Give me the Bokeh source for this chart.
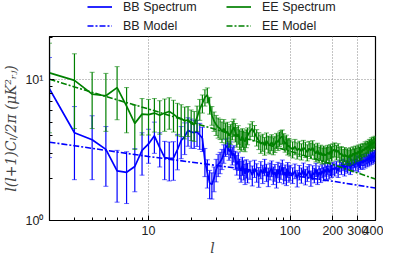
from bokeh.plotting import figure
from bokeh.layouts import column
from bokeh.models import ColumnDataSource, FixedTicker, Legend, LegendItem, Range1d
from bokeh.embed import file_html
from bokeh.resources import INLINE

# multipole grid (integer l, coarser at high l)
ell = list(range(2, 51)) + list(range(52, 101, 2)) + list(range(104, 201, 4)) + list(range(206, 399, 6))

# BB spectrum
bb_vals = ([8.6, 4.2, 3.75, 3.2, 2.25, 2.2, 2.42, 3.15, 3.5, 4.0, 3.3, 2.8, 2.76, 2.78, 3.19,
            3.7, 3.94, 4.37, 4.26, 4.2, 4.26, 4.05, 3.84, 2.65, 2.2, 1.85, 1.8, 2.0, 2.3]
           + [2.5, 2.6, 2.75, 3.0, 3.3, 3.4, 3.1, 3.2, 2.9, 3.0, 2.7, 2.5, 2.65, 2.35, 2.25,
              2.45, 2.3, 2.15, 2.35, 2.2]
           + [2.3, 2.1, 2.35, 2.2, 2.05, 2.3, 2.15, 2.4, 2.2, 2.05, 2.25, 2.35, 2.1, 2.2, 2.0,
              2.3, 2.15, 2.25, 2.4, 2.1, 2.2, 2.05, 2.3, 2.15, 2.2]
           + [2.1, 2.25, 2.0, 2.2, 2.1, 2.3, 2.05, 2.15, 2.25, 2.0, 2.2, 2.1, 2.3, 2.05, 2.2,
              2.1, 2.25, 2.15, 2.3, 2.2, 2.35, 2.2, 2.3, 2.25, 2.35]
           + [2.3, 2.4, 2.25, 2.45, 2.35, 2.5, 2.3, 2.45, 2.4, 2.55, 2.35, 2.5, 2.45, 2.6, 2.5,
              2.65, 2.45, 2.6, 2.55, 2.7, 2.55, 2.7, 2.6, 2.75, 2.65, 2.8, 2.7, 2.85, 2.75, 2.9,
              2.8, 2.85, 2.9])
bb_errs = ([5.8, 2.25, 1.8, 1.45, 0.9, 0.88, 0.82, 1.05, 0.95, 1.0, 0.9, 0.85, 0.85, 0.85, 0.9,
            0.95, 1.0, 1.0, 1.0, 0.95, 0.9, 0.85, 0.75, 0.6, 0.5, 0.42, 0.38, 0.4, 0.42]
           + [0.45, 0.45, 0.45, 0.45, 0.45, 0.45, 0.42, 0.42, 0.42, 0.4, 0.4, 0.4, 0.38, 0.38, 0.38,
              0.36, 0.36, 0.35, 0.35, 0.35]
           + [0.34, 0.34, 0.33, 0.33, 0.33, 0.32, 0.32, 0.32, 0.31, 0.31, 0.31, 0.3, 0.3, 0.3, 0.3,
              0.29, 0.29, 0.29, 0.29, 0.28, 0.28, 0.28, 0.28, 0.28, 0.27]
           + [0.27, 0.27, 0.27, 0.26, 0.26, 0.26, 0.26, 0.26, 0.25, 0.25, 0.25, 0.25, 0.25, 0.25, 0.24,
              0.24, 0.24, 0.24, 0.24, 0.24, 0.24, 0.23, 0.23, 0.23, 0.23]
           + [0.23, 0.23, 0.23, 0.23, 0.23, 0.23, 0.23, 0.23, 0.23, 0.23, 0.23, 0.23, 0.23, 0.23, 0.23,
              0.24, 0.24, 0.24, 0.24, 0.24, 0.24, 0.24, 0.24, 0.24, 0.24, 0.25, 0.25, 0.25, 0.25, 0.25,
              0.25, 0.25, 0.25])

# EE spectrum
ee_vals = ([11.2, 9.9, 7.9, 7.7, 8.8, 6.5, 4.9, 5.7, 5.65, 5.8, 5.6, 5.8, 5.95, 5.7, 5.4,
            5.3, 5.1, 5.2, 4.9, 4.8, 5.4, 6.2, 6.8, 7.5, 7.8, 6.6, 5.6, 5.1, 4.8]
           + [4.6, 4.5, 4.3, 4.5, 4.2, 4.3, 4.0, 4.15, 4.4, 4.6, 4.25, 3.95, 4.1, 3.8, 3.7,
              3.9, 3.75, 3.65, 3.85, 4.0]
           + [4.3, 4.5, 4.2, 3.9, 3.7, 3.5, 3.6, 3.4, 3.7, 3.5, 3.45, 3.6, 3.4, 3.5, 3.7,
              3.6, 3.8, 3.9, 3.95, 3.7, 3.5, 3.6, 3.35, 3.4, 3.3]
           + [3.2, 3.35, 3.15, 3.25, 3.1, 3.3, 3.2, 3.05, 3.25, 3.15, 3.3, 3.1, 3.0, 3.15, 2.95,
              3.05, 2.9, 3.0, 2.9, 2.95, 3.05, 2.95, 3.1, 3.0, 3.15]
           + [3.2, 3.05, 3.15, 2.95, 3.0, 2.85, 2.95, 2.85, 2.9, 2.8, 2.95, 2.85, 3.0, 2.9, 3.05,
              2.95, 3.1, 3.0, 3.15, 3.05, 3.2, 3.15, 3.3, 3.2, 3.35, 3.3, 3.45, 3.4, 3.55, 3.45,
              3.6, 3.55, 3.65])
ee_errs = ([7.0, 5.4, 3.4, 3.4, 3.6, 2.3, 1.7, 1.65, 1.6, 1.55, 1.5, 1.5, 1.5, 1.45, 1.4,
            1.35, 1.3, 1.25, 1.2, 1.15, 1.1, 1.05, 1.0, 1.0, 0.95, 0.9, 0.85, 0.8, 0.78]
           + [0.75, 0.74, 0.72, 0.71, 0.7, 0.69, 0.68, 0.67, 0.66, 0.65, 0.64, 0.63, 0.62, 0.61, 0.6,
              0.59, 0.58, 0.57, 0.56, 0.55]
           + [0.55, 0.54, 0.53, 0.52, 0.51, 0.5, 0.5, 0.49, 0.49, 0.48, 0.48, 0.47, 0.47, 0.46, 0.46,
              0.46, 0.45, 0.45, 0.45, 0.44, 0.44, 0.44, 0.43, 0.43, 0.43]
           + [0.42, 0.42, 0.42, 0.41, 0.41, 0.41, 0.4, 0.4, 0.4, 0.4, 0.39, 0.39, 0.39, 0.39, 0.38,
              0.38, 0.38, 0.38, 0.37, 0.37, 0.37, 0.37, 0.36, 0.36, 0.36]
           + [0.36, 0.36, 0.36, 0.35, 0.35, 0.35, 0.35, 0.35, 0.34, 0.34, 0.34, 0.34, 0.34, 0.34, 0.33,
              0.33, 0.33, 0.33, 0.33, 0.33, 0.33, 0.32, 0.32, 0.32, 0.32, 0.32, 0.32, 0.32, 0.32, 0.32,
              0.32, 0.32, 0.32])

# models
model_ell = [2, 3, 5, 10, 20, 50, 100, 200, 400]
bb_model = [3.6, 3.4, 3.15, 2.85, 2.6, 2.3, 2.1, 1.9, 1.7]
ee_model = [10.1, 8.9, 7.6, 6.2, 5.0, 3.8, 3.1, 2.5, 1.97]

x_major = [10, 100, 200, 300, 400]
x_minor = [2, 3, 4, 5, 6, 7, 8, 9, 20, 30, 40, 50, 60, 70, 80, 90]
y_major = [1, 10]
y_minor = [2, 3, 4, 5, 6, 7, 8, 9, 20]
y_labels = {1: "10⁰", 10: "10¹"}

BLUE = "#0000ff"
GREEN = "#008000"
DASH = "6 2 2 2"

p = figure(width=383, height=223, x_axis_type="log", y_axis_type="log",
           x_range=Range1d(2, 400), y_range=Range1d(1, 20.3),
           output_backend="svg", toolbar_location=None, title=None,
           min_border_left=47, min_border_right=8, min_border_top=1, min_border_bottom=34)
p.background_fill_color = "white"
p.border_fill_color = "white"
p.outline_line_color = "black"
p.outline_line_width = 1.2


def style_axis(ax, ticks, minor, overrides):
    ax.ticker = FixedTicker(ticks=ticks, minor_ticks=minor)
    ax.major_tick_in = 5
    ax.major_tick_out = 0
    ax.minor_tick_in = 3
    ax.minor_tick_out = 0
    ax.axis_line_color = "black"
    ax.major_tick_line_color = "black"
    ax.minor_tick_line_color = "black"
    ax.major_label_overrides = overrides
    ax.major_label_text_font = "Liberation Sans"
    ax.major_label_text_font_size = "12.5px"
    ax.major_label_text_color = "#222222"


xa = p.xaxis[0]
ya = p.yaxis[0]
style_axis(xa, x_major, x_minor, {v: str(v) for v in x_major})
style_axis(ya, y_major, y_minor, y_labels)
xa.major_label_standoff = 5
ya.major_label_standoff = 6
xa.axis_label = "l"
xa.axis_label_text_font = "DejaVu Serif"
xa.axis_label_text_font_style = "italic"
xa.axis_label_text_font_size = "14px"
xa.axis_label_standoff = 2
ya.axis_label = "l(l+1)Cₗ/2π (μK²ᵣⱼ)"
ya.axis_label_text_font = "DejaVu Serif"
ya.axis_label_text_font_style = "italic"
ya.axis_label_text_font_size = "14px"
ya.axis_label_standoff = 3

p.xgrid.ticker = FixedTicker(ticks=x_major)
p.ygrid.ticker = FixedTicker(ticks=[10])
for g in (p.xgrid[0], p.ygrid[0]):
    g.grid_line_color = "#888888"
    g.grid_line_dash = "1 2"
    g.grid_line_width = 1

bb_src = ColumnDataSource(dict(l=ell, v=bb_vals,
                               lo=[v - e for v, e in zip(bb_vals, bb_errs)],
                               hi=[v + e for v, e in zip(bb_vals, bb_errs)]))
ee_src = ColumnDataSource(dict(l=ell, v=ee_vals,
                               lo=[v - e for v, e in zip(ee_vals, ee_errs)],
                               hi=[v + e for v, e in zip(ee_vals, ee_errs)]))
model_src = ColumnDataSource(dict(l=model_ell, bb=bb_model, ee=ee_model))


def draw(src, color):
    p.segment(x0="l", y0="lo", x1="l", y1="hi", source=src, line_color=color, line_width=1.2)
    p.scatter(x="l", y="lo", source=src, marker="dash", size=5, line_color=color,
              line_alpha=0.6, line_width=1)
    p.scatter(x="l", y="hi", source=src, marker="dash", size=5, line_color=color,
              line_alpha=0.6, line_width=1)
    p.line(x="l", y="v", source=src, line_color=color, line_width=1.7)


draw(bb_src, BLUE)
p.line(x="l", y="bb", source=model_src, line_color=BLUE, line_width=1.6, line_dash=DASH)
draw(ee_src, GREEN)
p.line(x="l", y="ee", source=model_src, line_color=GREEN, line_width=1.6, line_dash=DASH)

# legend strip above the plot (its own small figure; its series fall outside its 0..1 ranges)
lf = figure(width=383, height=35, x_range=Range1d(0, 1), y_range=Range1d(0, 1),
            output_backend="svg", toolbar_location=None, title=None,
            x_axis_location=None, y_axis_location=None,
            min_border_left=0, min_border_right=0, min_border_top=0, min_border_bottom=0)
lf.outline_line_color = None
lf.xgrid.visible = False
lf.ygrid.visible = False
r_bb = lf.line(x="l", y="v", source=bb_src, line_color=BLUE, line_width=1.7)
r_ee = lf.line(x="l", y="v", source=ee_src, line_color=GREEN, line_width=1.7)
r_bbm = lf.line(x="l", y="bb", source=model_src, line_color=BLUE, line_width=1.6, line_dash=DASH)
r_eem = lf.line(x="l", y="ee", source=model_src, line_color=GREEN, line_width=1.6, line_dash=DASH)

leg_style = dict(orientation="horizontal", glyph_width=25, glyph_height=17, label_height=17,
                 label_width=101, label_standoff=11, spacing=2, margin=0, padding=0,
                 border_line_alpha=0, background_fill_alpha=0,
                 label_text_font="Liberation Sans", label_text_font_size="12.5px",
                 label_text_color="#222222")
leg1 = Legend(items=[LegendItem(label="BB Spectrum", renderers=[r_bb]),
                     LegendItem(label="EE Spectrum", renderers=[r_ee])],
              location=(38, 20), **leg_style)
leg2 = Legend(items=[LegendItem(label="BB Model", renderers=[r_bbm]),
                     LegendItem(label="EE Model", renderers=[r_eem])],
              location=(38, 1), **leg_style)
lf.add_layout(leg1, "center")
lf.add_layout(leg2, "center")

layout = column(lf, p, spacing=0)
open("out.html", "w").write(file_html(layout, INLINE))
